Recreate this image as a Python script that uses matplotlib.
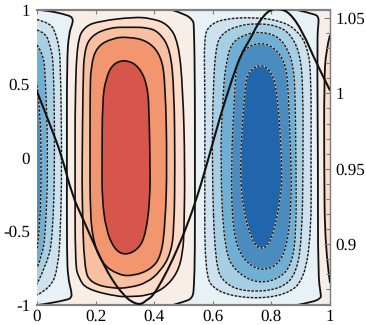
import matplotlib
matplotlib.use("Agg")
import matplotlib.pyplot as plt
from matplotlib.patches import PathPatch
from matplotlib.path import Path
from matplotlib.ticker import MultipleLocator

plt.rcParams['font.family'] = ['Liberation Serif', 'DejaVu Serif']
plt.rcParams['axes.unicode_minus'] = False
plt.rcParams['text.hinting'] = 'none'
plt.rcParams['text.hinting_factor'] = 1

# black curve, right axis
curve_x = [0, .044, .085, .119, .157, .181, .215, .242, .273, .297, .317, .352, .375, .396, .43, .461,
           .498, .539, .58, .625, .669, .696, .727, .747, .771, .795, .823, .863, .908, .952, 1]
curve_v = [1.0013, .9795, .9583, .933, .9166, .906, .8914, .881, .8716, .8663, .8623, .8595, .863, .8656, .8769, .8888,
           .9053, .9265, .953, .9848, 1.0113, 1.0258, 1.0358, 1.0437, 1.051, 1.0553, 1.0565, 1.0536, 1.0404, 1.0205, 1.002]

# contours, (x, y)
zero_left = [(0, 1), (.027, 1), (.106, .966), (.122, .946), (.122, .912), (.109, .844), (.102, .661), (.102, -.05),
             (.102, -.661), (.106, -.817), (.118, -.912), (.118, -.95), (.102, -.966), (.01, -1), (0, -1)]
zero_mid_l = [(.461, 1), (.505, .973), (.532, .932), (.536, .898), (.539, .458), (.539, -.05), (.539, -.661),
              (.536, -.864), (.532, -.955), (.498, -.98), (.464, -1)]
zero_mid_r = [(.887, -1), (.942, -.98), (.969, -.953), (.969, -.932), (.959, -.797), (.959, -.05), (.956, .817),
              (.961, .912), (.961, .95), (.949, .973), (.887, 1)]
zero_right = [(1, .83), (.986, .729), (.98, .505), (.98, -.05), (.983, -.614), (1, -.851)]

red_1 = [(.13, -.05), (.13, .39), (.137, .79), (.163, .89), (.215, .925), (.328, .952), (.388, .945), (.447, .905),
         (.483, .783), (.498, .458), (.505, -.05), (.502, -.492), (.498, -.64), (.48, -.783), (.432, -.892),
         (.375, -.937), (.317, -.943), (.273, -.943), (.168, -.892), (.143, -.818), (.13, -.729)]
red_2 = [(.154, -.05), (.157, .505), (.161, .72), (.184, .826), (.249, .882), (.317, .883), (.375, .882), (.416, .852),
         (.455, .735), (.468, .458), (.471, -.05), (.468, -.492), (.456, -.654), (.422, -.77), (.375, -.85),
         (.317, -.882), (.259, -.889), (.184, -.852), (.161, -.755), (.154, -.275)]
red_3 = [(.181, -.05), (.181, .437), (.184, .622), (.204, .753), (.259, .81), (.311, .818), (.378, .792), (.424, .69),
         (.438, .505), (.444, -.05), (.438, -.443), (.424, -.67), (.388, -.76), (.328, -.803), (.279, -.797),
         (.22, -.72), (.187, -.532), (.181, -.275)]
red_4 = [(.222, -.05), (.223, .39), (.235, .533), (.257, .632), (.3, .665), (.348, .62), (.378, .485), (.383, .275),
         (.386, -.05), (.386, -.275), (.372, -.512), (.348, -.62), (.3, -.665), (.263, -.62), (.235, -.485),
         (.222, -.275)]

left_1 = [(0, .935), (.048, .91), (.064, .837), (.074, .763), (.08, .661), (.085, -.05), (.08, -.505), (.072, -.74),
          (.048, -.885), (0, -.932)]
left_2 = [(0, .864), (.03, .845), (.046, .749), (.057, .641), (.061, -.05), (.053, -.546), (.036, -.71), (0, -.858)]
left_3 = [(0, .763), (.019, .71), (.029, .573), (.038, -.05), (.029, -.505), (.019, -.655), (0, -.749)]
left_4 = [(0, .49), (.011, .32), (.015, -.05), (.011, -.458), (0, -.627)]

blue_1 = [(.573, -.05), (.573, .458), (.57, .82), (.588, .895), (.635, .94), (.75, .952), (.838, .922), (.888, .862),
          (.92, .763), (.936, .593), (.935, -.05), (.936, -.505), (.912, -.83), (.85, -.932), (.73, -.96),
          (.608, -.91), (.572, -.783)]
blue_2 = [(.597, -.05), (.601, .458), (.61, .748), (.63, .84), (.683, .893), (.75, .91), (.822, .893), (.866, .835),
          (.899, .698), (.908, .458), (.908, -.05), (.905, -.512), (.887, -.788), (.83, -.895), (.713, -.912),
          (.641, -.858), (.608, -.735)]
blue_3 = [(.625, -.05), (.635, .458), (.647, .66), (.665, .783), (.717, .84), (.761, .852), (.822, .826), (.86, .722),
          (.875, .607), (.881, .458), (.884, -.05), (.885, -.505), (.87, -.72), (.83, -.82), (.754, -.855),
          (.683, -.783), (.64, -.645)]
blue_4 = [(.662, -.05), (.675, .458), (.681, .636), (.71, .742), (.761, .78), (.808, .75), (.848, .645), (.858, .458),
          (.867, -.05), (.868, -.275), (.858, -.553), (.83, -.72), (.765, -.775), (.7, -.69), (.668, -.505)]
blue_5 = [(.692, -.05), (.709, .458), (.718, .575), (.761, .635), (.798, .59), (.82, .458), (.837, -.05), (.833, -.275),
          (.8, -.575), (.765, -.627), (.735, -.575), (.702, -.342)]

x_ticks = [0, .2, .4, .6, .8, 1]
x_labels = ['0', '0.2', '0.4', '0.6', '0.8', '1']
y_ticks = [-1, -.5, 0, .5, 1]
y_labels = ['-1', '-0.5', '0', '0.5', '1']
v_ticks = [.9, .95, 1, 1.05]
v_labels = ['0.9', '0.95', '1', '1.05']

reds = ['#f8eee8', '#fddccb', '#f9bfa1', '#f29670', '#d6564b']
blues = ['#e8f1f5', '#cde2ee', '#a7cfe4', '#70afd4', '#4a8cc0', '#2166ac']
GRAY = '#808080'


def smooth(pts, closed=False):
    # listed points act as quadratic control points, so the outline comes out round
    if closed:
        mid = ((pts[-1][0] + pts[0][0]) / 2, (pts[-1][1] + pts[0][1]) / 2)
        verts = [mid]
        codes = [Path.MOVETO]
        for i, p in enumerate(pts):
            q = pts[(i + 1) % len(pts)]
            verts += [p, ((p[0] + q[0]) / 2, (p[1] + q[1]) / 2)]
            codes += [Path.CURVE3, Path.CURVE3]
    else:
        verts = [pts[0]]
        codes = [Path.MOVETO]
        for i in range(1, len(pts) - 1):
            p, q = pts[i], pts[i + 1]
            end = q if i == len(pts) - 2 else ((p[0] + q[0]) / 2, (p[1] + q[1]) / 2)
            verts += [p, end]
            codes += [Path.CURVE3, Path.CURVE3]
    return Path(verts, codes)


def fill(ax, path, color, z=1):
    ax.add_patch(PathPatch(path, facecolor=color, edgecolor='none', lw=0, zorder=z))


def solid(ax, path, lw=1.2):
    ax.add_patch(PathPatch(path, facecolor='none', edgecolor='#111111', lw=lw, zorder=3))


def dashed(ax, path):
    ax.add_patch(PathPatch(path, facecolor='none', edgecolor='#c9d2d6', lw=1.0, zorder=3))
    ax.add_patch(PathPatch(path, facecolor='none', edgecolor='#1a1a1a', lw=1.0, zorder=3,
                           linestyle=(0, (1.8, 1.1))))


fig = plt.figure(figsize=(3.66, 3.25), dpi=100)
ax = fig.add_axes([37 / 366, 1 - 305 / 325, 293 / 366, 295 / 325])
ax.set_xlim(0, 1)
ax.set_ylim(-1, 1)
ax.set_facecolor(reds[0])

# base lobes
fill(ax, smooth(zero_left), blues[0])
fill(ax, smooth(zero_mid_l + zero_mid_r), blues[0])
fill(ax, smooth(zero_right), reds[1])

for pts, c in zip([red_1, red_2, red_3, red_4], reds[1:]):
    fill(ax, smooth(pts, True), c, 2)
    solid(ax, smooth(pts, True))
for pts, c in zip([left_1, left_2, left_3, left_4], blues[1:]):
    fill(ax, smooth(pts), c, 2)
    dashed(ax, smooth(pts))
for pts, c in zip([blue_1, blue_2, blue_3, blue_4, blue_5], blues[1:]):
    fill(ax, smooth(pts, True), c, 2)
    dashed(ax, smooth(pts, True))

for pts in [zero_left, zero_mid_l, zero_mid_r, zero_right]:
    solid(ax, smooth(pts), lw=1.3)

ax.set_xticks(x_ticks)
ax.set_xticklabels(x_labels, fontsize=12.2)
ax.set_yticks(y_ticks)
ax.set_yticklabels(y_labels, fontsize=12.2)
ax.tick_params(axis='x', direction='in', length=3, width=0.8, color=GRAY, top=True, pad=3)
ax.tick_params(axis='y', length=0, pad=5)

ax2 = ax.twinx()
ax2.set_ylim(.8596, 1.0553)
ax2.add_patch(PathPatch(smooth(list(zip(curve_x, curve_v))), facecolor='none', edgecolor='#111111', lw=1.5, zorder=5))
ax2.set_yticks(v_ticks)
ax2.set_yticklabels(v_labels, fontsize=12.2)
ax2.yaxis.set_minor_locator(MultipleLocator(.01))
ax2.tick_params(axis='y', which='major', direction='in', length=4, width=0.8, color=GRAY, pad=4)
ax2.tick_params(axis='y', which='minor', direction='in', length=3, width=0.8, color=GRAY)

for a in [ax, ax2]:
    a.spines['left'].set_visible(False)
    a.spines['top'].set_color(GRAY)
    a.spines['bottom'].set_color(GRAY)
    a.spines['right'].set_color(GRAY)
    a.spines['top'].set_linewidth(1.5)
    a.spines['bottom'].set_linewidth(1.5)
    a.spines['right'].set_linewidth(0.9)

fig.savefig('out.png', dpi=100)
